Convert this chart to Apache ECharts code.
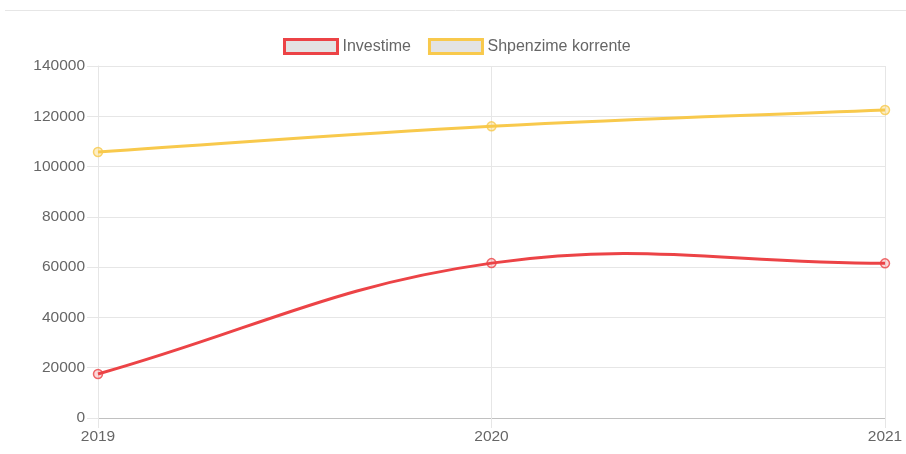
<!DOCTYPE html>
<html>
<head>
<meta charset="utf-8">
<script src="https://cdn.jsdelivr.net/npm/echarts@6/dist/echarts.min.js"></script>
<style>html,body{margin:0;padding:0;background:#fff}#c{width:906px;height:454px}</style>
</head>
<body>
<div id="c"></div>
<script>
const categories = ['2019', '2020', '2021'];
const investime = [17500, 61600, 61500];
const shpenzime = [105800, 116000, 122500];
const seriesNames = ['Investime', 'Shpenzime korrente'];

const red = '#ec4346';
const yellow = '#f8c94c';
const tension = 0.4;
const font = 'Liberation Sans, Arial, sans-serif';

// Chart.js-style cardinal spline drawn through the axes' scales
function splineRenderer(values, color) {
  return function (params, api) {
    if (params.dataIndex !== 0) return null;
    const pts = values.map((v, i) => api.coord([i, v]));
    let d = 'M' + pts[0][0] + ' ' + pts[0][1];
    const cps = pts.map((p, i) => {
      const prev = pts[i - 1] || p;
      const next = pts[i + 1] || p;
      const d01 = Math.hypot(p[0] - prev[0], p[1] - prev[1]);
      const d12 = Math.hypot(next[0] - p[0], next[1] - p[1]);
      let s01 = d01 / (d01 + d12), s12 = d12 / (d01 + d12);
      if (isNaN(s01)) s01 = 0;
      if (isNaN(s12)) s12 = 0;
      const fa = tension * s01, fb = tension * s12;
      return {
        prev: [p[0] - fa * (next[0] - prev[0]), p[1] - fa * (next[1] - prev[1])],
        next: [p[0] + fb * (next[0] - prev[0]), p[1] + fb * (next[1] - prev[1])]
      };
    });
    for (let i = 1; i < pts.length; i++) {
      const a = cps[i - 1].next, b = cps[i].prev, p = pts[i];
      d += ' C' + a[0] + ' ' + a[1] + ' ' + b[0] + ' ' + b[1] + ' ' + p[0] + ' ' + p[1];
    }
    return {
      type: 'path',
      shape: {pathData: d},
      style: {fill: null, stroke: color, lineWidth: 3, lineJoin: 'round'}
    };
  };
}

const chart = echarts.init(document.getElementById('c'));
chart.setOption({
  animation: false,
  graphic: [{
    type: 'line', shape: {x1: 5, y1: 10.5, x2: 906, y2: 10.5},
    style: {stroke: '#e6e6e6', lineWidth: 1}
  }],
  legend: {
    top: 33, left: 278, itemGap: 17,
    icon: 'rect', itemWidth: 53, itemHeight: 14,
    textStyle: {color: '#666', fontSize: 16, fontFamily: font},
    data: [
      {name: seriesNames[0], itemStyle: {color: '#e3e3e3', borderColor: red, borderWidth: 3}},
      {name: seriesNames[1], itemStyle: {color: '#e3e3e3', borderColor: yellow, borderWidth: 3}}
    ]
  },
  grid: {left: 98, right: 21, top: 66, bottom: 36},
  xAxis: {
    type: 'category', data: categories, boundaryGap: false,
    axisLine: {lineStyle: {color: '#c0c0c0'}},
    axisTick: {show: true, length: 10, lineStyle: {color: '#e6e6e6'}},
    axisLabel: {color: '#666', fontSize: 15.5, fontFamily: font, margin: 11},
    splitLine: {show: true, lineStyle: {color: '#e6e6e6'}}
  },
  yAxis: {
    type: 'value', min: 0, max: 140000, interval: 20000,
    axisLine: {show: true, lineStyle: {color: '#e6e6e6'}},
    axisTick: {show: true, length: 11, lineStyle: {color: '#e6e6e6'}},
    axisLabel: {color: '#666', fontSize: 15.5, fontFamily: font, margin: 13, formatter: v => String(v)},
    splitLine: {lineStyle: {color: '#e6e6e6'}}
  },
  series: [
    {
      name: seriesNames[0], type: 'custom', z: 2,
      data: investime.map((v, i) => [i, v]),
      encode: {x: 0, y: 1},
      itemStyle: {color: red},
      renderItem: splineRenderer(investime, red)
    },
    {
      name: seriesNames[1], type: 'custom', z: 2,
      data: shpenzime.map((v, i) => [i, v]),
      encode: {x: 0, y: 1},
      itemStyle: {color: yellow},
      renderItem: splineRenderer(shpenzime, yellow)
    },
    {
      name: seriesNames[0], type: 'line', data: investime, z: 3,
      symbol: 'circle', symbolSize: 9, showAllSymbol: true,
      lineStyle: {width: 0, opacity: 0},
      itemStyle: {color: 'rgba(236,67,70,0.25)', borderColor: red, borderWidth: 1.5, opacity: 0.8}
    },
    {
      name: seriesNames[1], type: 'line', data: shpenzime, z: 3,
      symbol: 'circle', symbolSize: 9, showAllSymbol: true,
      lineStyle: {width: 0, opacity: 0},
      itemStyle: {color: 'rgba(248,201,76,0.4)', borderColor: yellow, borderWidth: 1.5, opacity: 0.8}
    }
  ]
});
</script>
</body>
</html>
